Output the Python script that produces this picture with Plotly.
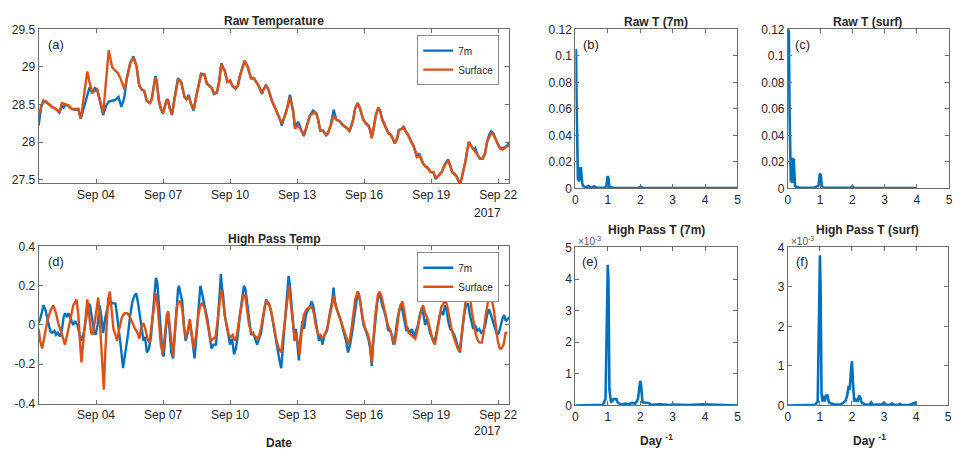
import pandas as pd
import plotly.graph_objects as go

# ---------------- data (day of September 2017, values) ----------------
t_raw_surf = [1.43, 1.55, 1.65, 1.77, 1.91, 2.06, 2.21, 2.36, 2.47, 2.62, 2.77, 2.92, 3.06, 3.21, 3.32, 3.61,
              3.71, 3.83, 3.95, 4.05, 4.13, 4.32, 4.57, 4.72, 4.86, 4.98, 5.09, 5.23, 5.28, 5.38, 5.53, 5.68,
              5.82, 5.93, 6.04, 6.16, 6.27, 6.41, 6.49, 6.66, 6.72, 6.81, 6.90, 7.00, 7.15, 7.22, 7.30, 7.40,
              7.52, 7.67, 7.81, 7.96, 8.05, 8.15, 8.26, 8.37, 8.48, 8.58, 8.70, 8.85, 8.96, 9.07, 9.17, 9.29,
              9.41, 9.51, 9.61, 9.70, 9.76, 9.88, 10.00, 10.10, 10.25, 10.35, 10.44, 10.65, 10.79, 10.94, 11.06,
              11.28, 11.43, 11.50, 11.60, 11.72, 11.87, 12.02, 12.24, 12.31, 12.46, 12.56, 12.68, 12.79, 12.83,
              12.90, 13.05, 13.20, 13.30, 13.42, 13.57, 13.71, 13.79, 13.86, 13.94, 14.04, 14.16, 14.30, 14.38,
              14.50, 14.64, 14.75, 14.89, 15.07, 15.26, 15.34, 15.41, 15.51, 15.60, 15.71, 15.81, 15.96, 16.07,
              16.19, 16.28, 16.34, 16.44, 16.52, 16.63, 16.71, 16.81, 16.96, 17.08, 17.18, 17.28, 17.37, 17.48,
              17.55, 17.70, 17.77, 17.84, 17.96, 18.11, 18.21, 18.32, 18.36, 18.46, 18.55, 18.63, 18.73, 18.85,
              18.98, 19.10, 19.20, 19.32, 19.47, 19.61, 19.76, 19.86, 19.94, 20.03, 20.13, 20.20, 20.28, 20.35,
              20.43, 20.54, 20.62, 20.69, 20.79, 20.90, 20.97, 21.09, 21.19, 21.31, 21.41, 21.50, 21.60, 21.68,
              21.78, 21.86, 21.97, 22.08, 22.20, 22.30, 22.42, 22.49]
temp_surf = [28.35, 28.48, 28.55, 28.54, 28.50, 28.46, 28.44, 28.40, 28.52, 28.50, 28.49, 28.44, 28.44, 28.44, 28.31, 28.94,
             28.80, 28.66, 28.68, 28.70, 28.62, 28.38, 29.22, 29.00, 28.95, 28.92, 28.85, 28.72, 28.70, 28.85, 29.05, 29.13,
             29.00, 28.75, 28.70, 28.68, 28.55, 28.52, 28.56, 28.86, 28.80, 28.56, 28.45, 28.39, 28.55, 28.55, 28.45, 28.37,
             28.60, 28.83, 28.80, 28.60, 28.57, 28.60, 28.50, 28.43, 28.60, 28.75, 28.90, 28.90, 28.78, 28.75, 28.72, 28.65,
             28.66, 28.80, 29.03, 28.98, 28.95, 28.80, 28.82, 28.75, 28.72, 28.75, 28.88, 29.08, 29.00, 28.85, 28.85,
             28.75, 28.65, 28.70, 28.75, 28.70, 28.55, 28.45, 28.30, 28.25, 28.35, 28.45, 28.60, 28.45, 28.40,
             28.18, 28.22, 28.15, 28.10, 28.20, 28.35, 28.38, 28.40, 28.38, 28.30, 28.15, 28.15, 28.10, 28.12,
             28.22, 28.35, 28.30, 28.28, 28.22, 28.18, 28.15, 28.20, 28.30, 28.45, 28.52, 28.45, 28.30, 28.25,
             28.22, 28.15, 28.05, 28.20, 28.35, 28.45, 28.42, 28.30, 28.20, 28.12, 28.10, 28.05, 27.98, 28.05,
             28.15, 28.18, 28.20, 28.15, 28.10, 28.00, 27.95, 27.85, 27.80, 27.82, 27.78, 27.72, 27.68, 27.65,
             27.60, 27.60, 27.53, 27.55, 27.60, 27.70, 27.75, 27.68, 27.60, 27.58, 27.55, 27.50, 27.45, 27.50,
             27.60, 27.75, 27.90, 28.00, 27.95, 27.90, 27.88, 27.82, 27.78, 27.78, 27.85, 28.00, 28.08, 28.12,
             28.10, 28.05, 27.98, 27.92, 27.90, 27.92, 27.95, 27.95]

t_raw_7m = [1.43, 1.50, 1.55, 1.65, 1.77, 1.91, 2.06, 2.21, 2.36, 2.47, 2.55, 2.62, 2.77, 2.92, 3.06, 3.21,
            3.32, 3.45, 3.61, 3.71, 3.83, 3.95, 4.05, 4.13, 4.32, 4.45, 4.57, 4.72, 4.86, 4.94, 5.01, 5.13,
            5.23, 5.28, 5.38, 5.53, 5.68,
            5.82, 5.93, 6.04, 6.16, 6.27, 6.41, 6.49, 6.66, 6.72, 6.81, 6.90, 7.00, 7.15, 7.22, 7.30, 7.40,
            7.52, 7.67, 7.81, 7.96, 8.05, 8.15, 8.26, 8.37, 8.48, 8.58, 8.70, 8.85, 8.96, 9.07, 9.17, 9.29,
            9.41, 9.51, 9.61, 9.70, 9.76, 9.88, 10.00, 10.10, 10.25, 10.35, 10.44, 10.65, 10.79, 10.94, 11.06,
            11.28, 11.43, 11.50, 11.60, 11.72, 11.87, 12.02, 12.24, 12.31, 12.46, 12.56, 12.68, 12.79, 12.83,
            12.90, 13.05, 13.20, 13.30, 13.42, 13.57, 13.71, 13.79, 13.86, 13.94, 14.04, 14.16, 14.30, 14.38,
            14.50, 14.64, 14.75, 14.89, 15.07, 15.26, 15.34, 15.41, 15.51, 15.60, 15.71, 15.81, 15.96, 16.07,
            16.19, 16.28, 16.34, 16.44, 16.52, 16.63, 16.71, 16.81, 16.96, 17.08, 17.18, 17.28, 17.37, 17.48,
            17.55, 17.70, 17.77, 17.84, 17.96, 18.11, 18.21, 18.32, 18.36, 18.46, 18.55, 18.63, 18.73, 18.85,
            18.98, 19.10, 19.20, 19.32, 19.47, 19.61, 19.76, 19.86, 19.94, 20.03, 20.13, 20.20, 20.28, 20.35,
            20.43, 20.54, 20.62, 20.69, 20.79, 20.90, 20.97, 21.09, 21.19, 21.31, 21.41, 21.50, 21.60, 21.68,
            21.78, 21.86, 21.97, 22.08, 22.20, 22.30, 22.42, 22.49]
temp_7m = [28.22, 28.38, 28.47, 28.55, 28.53, 28.50, 28.46, 28.44, 28.39, 28.48, 28.46, 28.50, 28.48, 28.44, 28.43, 28.44,
           28.31, 28.45, 28.62, 28.73, 28.65, 28.72, 28.70, 28.60, 28.36, 28.48, 28.54, 28.55, 28.56, 28.58, 28.60, 28.47,
           28.55, 28.62, 28.85, 29.05, 29.14,
           29.00, 28.76, 28.70, 28.68, 28.55, 28.52, 28.57, 28.88, 28.80, 28.56, 28.44, 28.38, 28.55, 28.57, 28.45, 28.36,
           28.60, 28.85, 28.80, 28.60, 28.57, 28.63, 28.50, 28.42, 28.60, 28.75, 28.91, 28.90, 28.78, 28.75, 28.72, 28.64,
           28.66, 28.80, 29.05, 28.98, 28.95, 28.80, 28.82, 28.75, 28.71, 28.75, 28.88, 29.08, 29.00, 28.85, 28.85,
           28.75, 28.64, 28.70, 28.76, 28.70, 28.55, 28.45, 28.30, 28.22, 28.35, 28.45, 28.63, 28.45, 28.40,
           28.20, 28.27, 28.15, 28.08, 28.20, 28.35, 28.42, 28.40, 28.38, 28.30, 28.15, 28.15, 28.09, 28.12,
           28.22, 28.43, 28.30, 28.28, 28.22, 28.18, 28.15, 28.20, 28.30, 28.45, 28.52, 28.45, 28.30, 28.25,
           28.22, 28.15, 28.06, 28.20, 28.35, 28.46, 28.42, 28.30, 28.20, 28.12, 28.10, 28.05, 27.98, 28.05,
           28.16, 28.18, 28.21, 28.15, 28.10, 28.00, 27.95, 27.85, 27.80, 27.85, 27.78, 27.72, 27.68, 27.66,
           27.60, 27.60, 27.51, 27.55, 27.60, 27.70, 27.77, 27.68, 27.60, 27.58, 27.55, 27.50, 27.43, 27.50,
           27.60, 27.75, 27.90, 28.00, 27.95, 27.90, 27.92, 27.82, 27.78, 27.78, 27.85, 28.00, 28.10, 28.14,
           28.12, 28.05, 27.98, 27.92, 27.92, 27.93, 27.96, 28.00]

t_hp_7m = [1.43, 1.50, 1.59, 1.65, 1.73, 1.80, 1.89, 1.95, 2.03, 2.14, 2.21, 2.29, 2.39, 2.48, 2.55, 2.62, 2.70, 2.77,
           2.88, 2.98, 3.07, 3.17, 3.27, 3.36, 3.47, 3.57, 3.66, 3.73, 3.80, 3.91, 3.98, 4.07, 4.16, 4.23, 4.32, 4.42,
           4.54, 4.65, 4.75, 4.87, 4.94, 5.01, 5.12, 5.21, 5.31, 5.43, 5.53, 5.63, 5.72, 5.80, 5.87, 5.97, 6.05, 6.12,
           6.19, 6.28, 6.37, 6.46, 6.56, 6.64, 6.68, 6.74, 6.81, 6.90, 6.98, 7.03, 7.11, 7.18, 7.24, 7.30, 7.37, 7.45,
           7.52, 7.60, 7.67, 7.71, 7.77, 7.86, 7.93, 8.01, 8.11, 8.19, 8.26, 8.35, 8.41, 8.50, 8.58, 8.67, 8.73, 8.82,
           8.89, 9.00, 9.09, 9.17, 9.26, 9.37, 9.44, 9.51, 9.59, 9.63, 9.69, 9.76, 9.84, 9.91, 10.00, 10.09, 10.18,
           10.26, 10.35, 10.44, 10.55, 10.62, 10.69, 10.77, 10.85, 10.94, 11.03, 11.14, 11.21, 11.30, 11.39, 11.50,
           11.61, 11.68, 11.77, 11.87, 11.98, 12.09, 12.21, 12.29, 12.36, 12.46, 12.57, 12.62, 12.68, 12.74, 12.82,
           12.89, 12.95, 13.01, 13.08, 13.16, 13.24, 13.32, 13.39, 13.50, 13.57, 13.64, 13.72, 13.79, 13.89, 13.98,
           14.06, 14.13, 14.23, 14.34, 14.45, 14.57, 14.63, 14.69, 14.78, 14.87, 14.97, 15.07, 15.19, 15.28, 15.37,
           15.46, 15.56, 15.66, 15.72, 15.78, 15.88, 15.97, 16.05, 16.12, 16.19, 16.27, 16.34, 16.40, 16.49, 16.59,
           16.67, 16.74, 16.81, 16.90, 17.01, 17.08, 17.15, 17.23, 17.31, 17.40, 17.49, 17.58, 17.67, 17.74, 17.82,
           17.89, 17.96, 18.05, 18.14, 18.23, 18.32, 18.41, 18.49, 18.58, 18.66, 18.73, 18.80, 18.88, 18.95, 19.06,
           19.14, 19.22, 19.29, 19.39, 19.47, 19.54, 19.62, 19.69, 19.76, 19.85, 19.94, 20.03, 20.12, 20.21, 20.29,
           20.38, 20.47, 20.56, 20.65, 20.72, 20.80, 20.88, 20.97, 21.06, 21.15, 21.24, 21.33, 21.42, 21.50, 21.59,
           21.68, 21.77, 21.86, 21.95, 22.03, 22.12, 22.21, 22.27, 22.34, 22.42, 22.49]
hp_7m = [0.01, 0.03, 0.07, 0.10, 0.08, 0.05, 0.00, -0.03, -0.04, -0.03, -0.05, -0.04, -0.06, -0.02, 0.04, 0.06, 0.04, 0.06,
         0.03, 0.00, 0.02, 0.00, -0.05, -0.08, -0.03, 0.05, 0.11, 0.10, 0.05, -0.03, -0.05, 0.00, 0.10, 0.05, -0.04, 0.04,
         0.10, 0.12, 0.11, 0.11, 0.05, -0.03, -0.12, -0.22, -0.15, -0.05, 0.05, 0.12, 0.15, 0.16, 0.12, 0.05, -0.02, -0.08,
         -0.06, -0.14, -0.12, -0.06, 0.08, 0.20, 0.24, 0.22, 0.10, -0.05, -0.15, -0.16, -0.05, 0.05, 0.05, -0.02, -0.14, -0.17,
         -0.05, 0.10, 0.18, 0.20, 0.16, 0.12, 0.00, -0.08, -0.04, 0.02, -0.03, -0.13, -0.17, -0.05, 0.08, 0.20, 0.17, 0.12,
         0.10, 0.02, -0.06, -0.12, -0.10, -0.10, 0.00, 0.12, 0.26, 0.20, 0.15, 0.05, 0.00, -0.06, -0.10, -0.07, -0.15,
         -0.12, -0.05, 0.05, 0.15, 0.20, 0.18, 0.10, 0.02, -0.05, -0.04, -0.08, -0.10, -0.07, -0.04, 0.05,
         0.13, 0.11, 0.10, 0.05, -0.03, -0.10, -0.18, -0.22, -0.12, 0.02, 0.15, 0.25, 0.20, 0.12, 0.00,
         -0.08, -0.02, -0.10, -0.18, -0.05, 0.02, -0.02, 0.05, 0.08, 0.09, 0.12, 0.10, 0.05, -0.03, -0.08,
         -0.05, -0.10, -0.05, -0.03, 0.05, 0.12, 0.19, 0.12, 0.08, 0.05, 0.02, -0.03, -0.08, -0.14, -0.10,
         -0.04, 0.05, 0.13, 0.17, 0.15, 0.08, 0.00, -0.02, -0.05, -0.07, -0.12, -0.21, -0.10, 0.02, 0.12,
         0.16, 0.14, 0.10, 0.07, 0.02, -0.03, -0.02, -0.05, -0.10, -0.05, 0.03, 0.08, 0.10, 0.06, 0.00,
         -0.03, -0.02, -0.04, -0.02, -0.06, -0.03, 0.00, 0.05, 0.08, 0.05, 0.00, 0.03, 0.00, -0.04, -0.07,
         -0.09, -0.05, 0.00, 0.05, 0.07, 0.05, 0.10, 0.08, 0.02, -0.02, -0.03, -0.05, -0.08, -0.12, -0.14,
         -0.05, 0.05, 0.10, 0.11, 0.06, 0.02, -0.02, 0.00, -0.03, -0.02, -0.04, -0.03, 0.00, 0.05, 0.08,
         0.05, 0.02, -0.02, -0.05, -0.04, 0.00, 0.04, 0.05, 0.02, 0.03, 0.04]

t_hp_surf = [1.43, 1.50, 1.59, 1.70, 1.84, 1.99, 2.09, 2.21, 2.33, 2.43, 2.52, 2.61, 2.73, 2.85, 2.98, 3.13, 3.21, 3.29,
             3.35, 3.42, 3.51, 3.61, 3.69, 3.78, 3.86, 3.95, 4.04, 4.10, 4.17, 4.25, 4.35, 4.41, 4.48, 4.54, 4.62, 4.69,
             4.78, 4.87, 4.94, 5.04, 5.16, 5.28, 5.40, 5.52, 5.63, 5.75, 5.86, 5.94, 6.03, 6.12, 6.21, 6.30, 6.39, 6.49,
             6.58, 6.67, 6.74, 6.83, 6.90, 6.99, 7.08, 7.17, 7.23, 7.30, 7.37, 7.45, 7.52, 7.61, 7.68, 7.77, 7.86, 7.95,
             8.04, 8.13, 8.20, 8.29, 8.38, 8.48, 8.58, 8.67, 8.74, 8.85, 8.95, 9.06, 9.14, 9.25, 9.35, 9.44, 9.53, 9.60,
             9.67, 9.76, 9.85, 9.94, 10.03, 10.12, 10.21, 10.29, 10.40, 10.50, 10.59, 10.68, 10.77, 10.85, 10.96, 11.06,
             11.16, 11.25, 11.36, 11.46, 11.56, 11.65, 11.74, 11.84, 11.95, 12.06, 12.18, 12.29, 12.37, 12.48, 12.57,
             12.64, 12.71, 12.80, 12.89, 12.96, 13.04, 13.11, 13.20, 13.30, 13.42, 13.54, 13.66, 13.75, 13.83, 13.94,
             14.03, 14.13, 14.23, 14.34, 14.45, 14.57, 14.65, 14.72, 14.81, 14.91, 15.01, 15.12, 15.22, 15.31, 15.41,
             15.51, 15.60, 15.71, 15.80, 15.90, 16.00, 16.09, 16.18, 16.27, 16.34, 16.41, 16.50, 16.61, 16.68, 16.77,
             16.86, 16.96, 17.06, 17.17, 17.27, 17.36, 17.45, 17.54, 17.62, 17.71, 17.80, 17.89, 17.99, 18.10, 18.20,
             18.29, 18.38, 18.47, 18.55, 18.64, 18.73, 18.82, 18.91, 19.00, 19.08, 19.17, 19.26, 19.35, 19.45, 19.56,
             19.66, 19.75, 19.84, 19.93, 20.01, 20.10, 20.19, 20.28, 20.37, 20.46, 20.54, 20.65, 20.74, 20.82, 20.91,
             21.00, 21.09, 21.18, 21.27, 21.36, 21.44, 21.53, 21.62, 21.71, 21.80, 21.89, 21.98, 22.07, 22.15, 22.24,
             22.33, 22.42]
hp_surf = [-0.02, -0.08, -0.12, -0.06, 0.03, 0.08, 0.10, 0.06, 0.00, -0.03, -0.07, -0.10, -0.04, 0.03, 0.10, 0.13, 0.05, -0.10,
           -0.19, -0.10, 0.03, 0.13, 0.05, -0.04, -0.05, 0.03, 0.10, 0.14, 0.02, -0.15, -0.33, -0.15, 0.05, 0.13, 0.17, 0.08,
           -0.02, -0.05, -0.08, -0.02, 0.04, 0.06, 0.06, 0.04, 0.01, -0.02, -0.04, -0.07, -0.01, 0.01, -0.02, -0.07, -0.09, 0.00,
           0.10, 0.16, 0.12, 0.00, -0.10, -0.15, -0.05, 0.05, 0.07, 0.00, -0.10, -0.16, -0.05, 0.08, 0.12, 0.12, 0.08, -0.02,
           -0.07, 0.00, 0.03, -0.05, -0.12, -0.05, 0.05, 0.10, 0.11, 0.09, 0.03, -0.03, -0.08, -0.07, -0.06, 0.02, 0.10, 0.18,
           0.14, 0.05, 0.00, -0.05, -0.06, -0.05, -0.08, -0.06, 0.02, 0.10, 0.15, 0.15, 0.08, 0.00, -0.04, -0.05,
           -0.06, -0.07, -0.03, 0.03, 0.10, 0.12, 0.11, 0.07, 0.00, -0.07, -0.12, -0.14, -0.06, 0.05, 0.13,
           0.20, 0.12, 0.00, -0.08, -0.04, -0.10, -0.15, -0.04, 0.05, 0.08, 0.09, 0.09, 0.06, 0.00, -0.05,
           -0.05, -0.07, -0.05, -0.02, 0.04, 0.10, 0.15, 0.10, 0.07, 0.03, 0.00, -0.04, -0.07, -0.10, -0.04,
           0.05, 0.13, 0.17, 0.14, 0.06, 0.00, -0.03, -0.05, -0.10, -0.19, -0.08, 0.05, 0.15, 0.17, 0.15,
           0.10, 0.06, 0.00, -0.03, -0.06, -0.10, -0.04, 0.05, 0.10, 0.12, 0.07, 0.00, -0.04, -0.05, -0.06,
           -0.07, -0.03, 0.04, 0.08, 0.10, 0.06, 0.04, 0.00, -0.05, -0.08, -0.10, -0.04, 0.04, 0.09, 0.11,
           0.12, 0.08, 0.02, -0.03, -0.06, -0.09, -0.12, -0.13, -0.04, 0.06, 0.12, 0.14, 0.14, 0.07, 0.00,
           -0.05, -0.08, -0.09, -0.09, -0.03, 0.05, 0.11, 0.14, 0.13, 0.08, 0.00, -0.08, -0.12, -0.12, -0.10,
           -0.04, -0.04]

# spectra (frequency in day^-1)
f_raw_7m = [0.00, 0.01, 0.02, 0.04, 0.06, 0.08, 0.10, 0.11, 0.13, 0.15, 0.17, 0.19, 0.21, 0.23, 0.27, 0.32, 0.40,
            0.45, 0.52, 0.58, 0.65, 0.75, 0.90, 0.96, 0.99, 1.02, 1.05, 1.20, 1.50, 1.95, 2.02, 2.08, 3.00, 4.00, 5.00]
p_raw_7m = [0.080, 0.105, 0.104, 0.060, 0.020, 0.006, 0.012, 0.005, 0.016, 0.006, 0.016, 0.008, 0.004, 0.002, 0.001,
            0.0005, 0.0018, 0.0008, 0.001, 0.0015, 0.0005, 0.0003, 0.0003, 0.002, 0.009, 0.008, 0.001, 0.0002, 0.0002,
            0.0003, 0.0012, 0.0002, 0.0001, 0.0001, 0.0001]

f_raw_surf = [0.00, 0.01, 0.03, 0.05, 0.07, 0.09, 0.11, 0.13, 0.15, 0.16, 0.18, 0.20, 0.22, 0.26, 0.35, 0.50, 0.80,
              0.95, 0.99, 1.02, 1.05, 1.10, 1.50, 1.95, 2.00, 2.05, 2.50, 3.00, 4.00]
p_raw_surf = [0.090, 0.120, 0.118, 0.060, 0.020, 0.005, 0.012, 0.004, 0.023, 0.005, 0.022, 0.004, 0.002, 0.001, 0.0005,
              0.0003, 0.0003, 0.002, 0.011, 0.010, 0.002, 0.0003, 0.0002, 0.0005, 0.0016, 0.0004, 0.0001, 0.0001, 0.0001]

# high-pass spectra, in units of 1e-3
f_hp_7m = [0.00, 0.50, 0.85, 0.93, 0.97, 1.00, 1.02, 1.05, 1.10, 1.18, 1.22, 1.27, 1.30, 1.40, 1.55, 1.65, 1.75, 1.85,
           1.93, 1.97, 2.00, 2.03, 2.07, 2.25, 2.35, 2.60, 2.90, 3.00, 3.50, 3.95, 4.50, 5.00]
p_hp_7m = [0.0, 0.01, 0.02, 0.2, 3.5, 4.45, 4.0, 0.5, 0.1, 0.2, 0.2, 0.2, 0.1, 0.03, 0.06, 0.04, 0.08, 0.06,
           0.2, 0.6, 0.78, 0.6, 0.1, 0.08, 0.02, 0.04, 0.01, 0.03, 0.01, 0.04, 0.01, 0.0]

f_hp_surf = [0.00, 0.50, 0.85, 0.93, 0.97, 1.00, 1.02, 1.05, 1.08, 1.12, 1.15, 1.20, 1.24, 1.28, 1.35, 1.45, 1.60, 1.70,
             1.80, 1.85, 1.90, 1.93, 1.97, 2.00, 2.03, 2.07, 2.12, 2.18, 2.22, 2.26, 2.30, 2.40, 2.55, 2.60, 2.65, 2.80,
             2.95, 3.00, 3.05, 3.20, 3.25, 3.30, 3.45, 3.50, 3.55, 3.80, 3.93, 3.97, 4.00]
p_hp_surf = [0.0, 0.01, 0.02, 0.1, 2.5, 3.8, 3.0, 0.3, 0.1, 0.25, 0.1, 0.25, 0.25, 0.08, 0.05, 0.03, 0.02, 0.05,
             0.12, 0.25, 0.5, 0.4, 0.9, 1.12, 0.6, 0.1, 0.15, 0.1, 0.25, 0.2, 0.08, 0.03, 0.02, 0.08, 0.02, 0.02,
             0.03, 0.07, 0.02, 0.02, 0.05, 0.02, 0.02, 0.04, 0.01, 0.02, 0.06, 0.07, 0.0]

date_ticks = ["2017-09-04", "2017-09-07", "2017-09-10", "2017-09-13", "2017-09-16", "2017-09-19", "2017-09-22"]
date_labels = ["Sep 04", "Sep 07", "Sep 10", "Sep 13", "Sep 16", "Sep 19", "Sep 22"]
hp_ticks = [-0.4, -0.2, 0, 0.2, 0.4]
hp_labels = ["-0.4", "-0.2", "0", "0.2", "0.4"]

# ---------------- helpers ----------------
START = pd.Timestamp("2017-09-01")


def to_dt(days):
    return [START + pd.Timedelta(days=d - 1) for d in days]


BLUE = "#0072BD"
ORANGE = "#D95319"
FONT = "Liberation Sans, Arial, Helvetica, sans-serif"
AXC = "#6e6e6e"
TXT = "#262626"

fig = go.Figure()

# (a) raw temperature
fig.add_trace(go.Scatter(x=to_dt(t_raw_7m), y=temp_7m, mode="lines", name="7m",
                         line=dict(color=BLUE, width=2.4), xaxis="x", yaxis="y", legend="legend"))
fig.add_trace(go.Scatter(x=to_dt(t_raw_surf), y=temp_surf, mode="lines", name="Surface",
                         line=dict(color=ORANGE, width=2.4), xaxis="x", yaxis="y", legend="legend"))
# (d) high pass
fig.add_trace(go.Scatter(x=to_dt(t_hp_7m), y=hp_7m, mode="lines", name="7m",
                         line=dict(color=BLUE, width=2.4), xaxis="x4", yaxis="y4", legend="legend2"))
fig.add_trace(go.Scatter(x=to_dt(t_hp_surf), y=hp_surf, mode="lines", name="Surface",
                         line=dict(color=ORANGE, width=2.4), xaxis="x4", yaxis="y4", legend="legend2"))
# spectra
fig.add_trace(go.Scatter(x=f_raw_7m, y=p_raw_7m, mode="lines", showlegend=False,
                         line=dict(color=BLUE, width=2.6), xaxis="x2", yaxis="y2"))
fig.add_trace(go.Scatter(x=f_raw_surf, y=p_raw_surf, mode="lines", showlegend=False,
                         line=dict(color=BLUE, width=2.6), xaxis="x3", yaxis="y3"))
fig.add_trace(go.Scatter(x=f_hp_7m, y=p_hp_7m, mode="lines", showlegend=False,
                         line=dict(color=BLUE, width=2.6), xaxis="x5", yaxis="y5"))
fig.add_trace(go.Scatter(x=f_hp_surf, y=p_hp_surf, mode="lines", showlegend=False,
                         line=dict(color=BLUE, width=2.6), xaxis="x6", yaxis="y6"))

W, H = 961, 459


def px_x(a, b):
    return [a / W, b / W]


def px_y(top, bottom):
    return [1 - bottom / H, 1 - top / H]


common = dict(showline=True, linecolor=AXC, linewidth=1, mirror="ticks", ticks="inside", ticklen=4,
              tickcolor=AXC, showgrid=False, zeroline=False, tickfont=dict(family=FONT, size=12, color=TXT))

t_min = START + pd.Timedelta(days=min(t_raw_7m) - 1)
t_max = START + pd.Timedelta(days=max(t_raw_7m) - 1)

layout = dict(
    width=W, height=H, margin=dict(l=0, r=0, t=0, b=0),
    paper_bgcolor="white", plot_bgcolor="white",
    font=dict(family=FONT, color=TXT),
    xaxis=dict(domain=px_x(36, 512), anchor="y", type="date", range=[t_min, t_max],
               tickvals=date_ticks, ticktext=date_labels, **common),
    yaxis=dict(domain=px_y(23, 182), anchor="x", range=[27.45, 29.5],
               tickvals=[27.5, 28, 28.5, 29, 29.5], **common),
    xaxis4=dict(domain=px_x(36, 512), anchor="y4", type="date", range=[t_min, t_max],
                tickvals=date_ticks, ticktext=date_labels, **common),
    yaxis4=dict(domain=px_y(247, 409), anchor="x4", range=[-0.4, 0.4],
                tickvals=hp_ticks, ticktext=hp_labels, **common),
    xaxis2=dict(domain=px_x(579, 743), anchor="y2", range=[0, 5], tickvals=[0, 1, 2, 3, 4, 5], **common),
    yaxis2=dict(domain=px_y(23, 187), anchor="x2", range=[0, 0.12],
                tickvals=[0, 0.02, 0.04, 0.06, 0.08, 0.1, 0.12], **common),
    xaxis3=dict(domain=px_x(794, 957), anchor="y3", range=[0, 5], tickvals=[0, 1, 2, 3, 4, 5], **common),
    yaxis3=dict(domain=px_y(23, 187), anchor="x3", range=[0, 0.12],
                tickvals=[0, 0.02, 0.04, 0.06, 0.08, 0.1, 0.12], **common),
    xaxis5=dict(domain=px_x(579, 743), anchor="y5", range=[0, 5], tickvals=[0, 1, 2, 3, 4, 5], **common),
    yaxis5=dict(domain=px_y(248, 411), anchor="x5", range=[0, 5], tickvals=[0, 1, 2, 3, 4, 5], **common),
    xaxis6=dict(domain=px_x(794, 956), anchor="y6", range=[0, 5], tickvals=[0, 1, 2, 3, 4, 5], **common),
    yaxis6=dict(domain=px_y(248, 411), anchor="x6", range=[0, 4], tickvals=[0, 1, 2, 3, 4], **common),
    legend=dict(x=502 / W, y=1 - 29 / H, xanchor="right", yanchor="top", bgcolor="white",
                bordercolor="#8c8c8c", borderwidth=1, font=dict(family=FONT, size=10, color=TXT),
                itemwidth=30, tracegroupgap=0),
    legend2=dict(x=502 / W, y=1 - 253 / H, xanchor="right", yanchor="top", bgcolor="white",
                 bordercolor="#8c8c8c", borderwidth=1, font=dict(family=FONT, size=10, color=TXT),
                 itemwidth=30, tracegroupgap=0),
)
fig.update_layout(**layout)


def ann(text, x, y, size=11, bold=False, color=TXT, xanchor="center"):
    if bold:
        text = "<b>" + text + "</b>"
    fig.add_annotation(text=text, x=x / W, y=1 - y / H, xref="paper", yref="paper", showarrow=False,
                       xanchor=xanchor, yanchor="middle", font=dict(family=FONT, size=size, color=color))


# titles
ann("Raw Temperature", 274, 14, 12, True)
ann("High Pass Temp", 274, 239, 12, True)
ann("Raw T (7m)", 661, 15, 12, True)
ann("Raw T (surf)", 875, 15, 12, True)
ann("High Pass T (7m)", 661, 230, 12, True)
ann("High Pass T (surf)", 875, 230, 12, True)
# axis labels
ann("Date", 279, 450, 12, True)
ann("Day <sup>-1</sup>", 661, 447, 12, True)
ann("Day <sup>-1</sup>", 877, 447, 12, True)
ann("2017", 490, 212, 12)
ann("2017", 490, 437, 12)
# panel letters
ann("(a)", 54, 39, 13)
ann("(d)", 54, 262, 13)
ann("(b)", 595, 39, 13)
ann("(c)", 809, 39, 13)
ann("(e)", 594, 262, 13)
ann("(f)", 808, 262, 13)
# exponent labels
ann("×10<sup>-3</sup>", 580, 241, 10, color="#555555", xanchor="left")
ann("×10<sup>-3</sup>", 795, 241, 10, color="#555555", xanchor="left")

fig.write_html("out.html")
